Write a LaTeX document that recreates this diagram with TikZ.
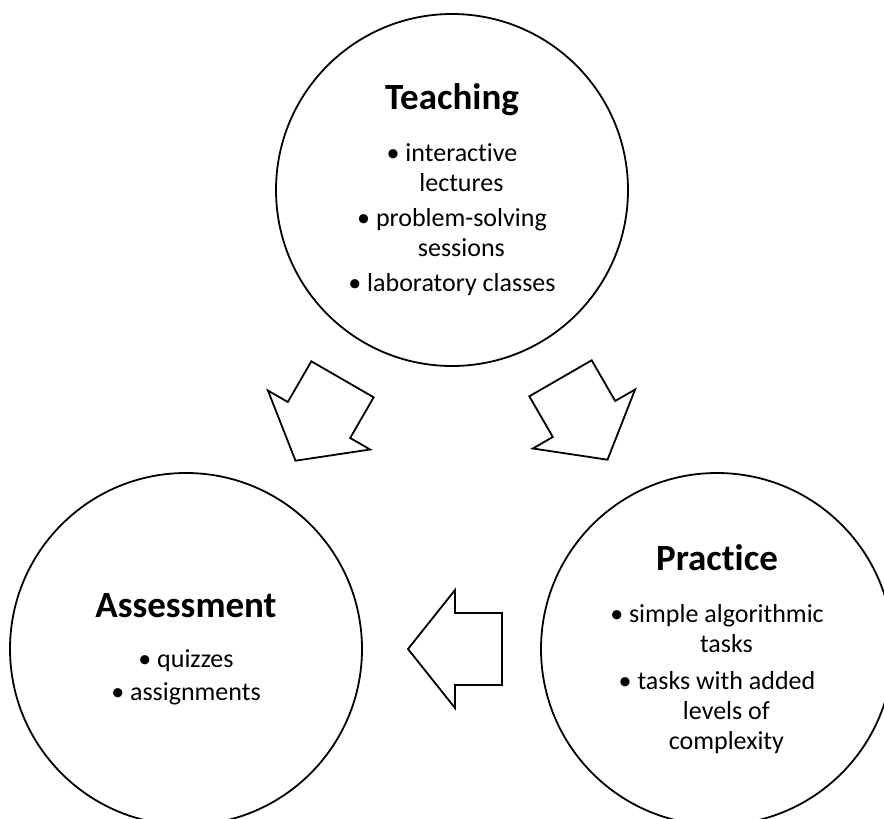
\documentclass[tikz,border=0pt]{standalone}
\usepackage{fontspec}
\setmainfont{Carlito}[Ligatures=NoCommon]

% bold heading inside each circle
\newcommand\stagetitle[1]{{\fontsize{37}{30}\selectfont\bfseries #1}}
% indent for wrapped bullet lines
\newcommand\wrapind{\phantom{\textbullet\ }}

\begin{document}
\begin{tikzpicture}[
    x=1pt, y=-1pt,
    stage/.style={draw, circle, line width=1.8pt, minimum size=352pt,
                  inner sep=0pt, align=center, font=\fontsize{26}{30}\selectfont},
    blockarrow/.pic={
      \draw[line width=1.8pt] (-47,-36) -- (0,-36) -- (0,-59) -- (47,0)
        -- (0,59) -- (0,36) -- (-47,36) -- cycle;},
  ]
    \clip (0,0) rectangle (884,819);

    \node[stage] (teach) at (452,190) {\stagetitle{Teaching}\\[22pt]
      \textbullet\ interactive\\
      \wrapind lectures\\[5pt]
      \textbullet\ problem-solving\\
      \wrapind sessions\\[5pt]
      \textbullet\ laboratory classes};

    \node[stage] (assess) at (186,649) {\stagetitle{Assessment}\\[20pt]
      \textbullet\ quizzes\\[3pt]
      \textbullet\ assignments};

    \node[stage] (practice) at (717,649) {\stagetitle{Practice}\\[22pt]
      \textbullet\ simple algorithmic\\
      \wrapind tasks\\[7pt]
      \textbullet\ tasks with added\\
      \wrapind levels of\\
      \wrapind complexity};

    % block arrows between the stages
    \pic[rotate=240] (teachToAssess)   at (319,420) {blockarrow};
    \pic[rotate=300] (teachToPractice) at (584,419) {blockarrow};
    \pic[rotate=180] (practiceToAssess) at (455,649) {blockarrow};
  \end{tikzpicture}
\end{document}
